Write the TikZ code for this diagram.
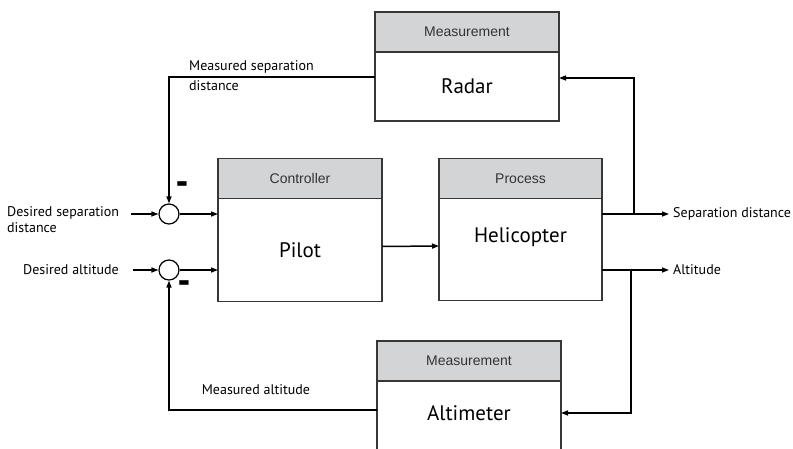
\documentclass[tikz,border=0pt]{standalone}
\usepackage{fontspec}
\setmainfont{PT Sans}
\newfontfamily\hdrfont{Liberation Sans}
\usetikzlibrary{positioning,arrows.meta}
\definecolor{hdrgray}{RGB}{211,212,214}
\definecolor{edgegray}{RGB}{55,55,55}
\begin{document}
\begin{tikzpicture}[x=1pt,y=-1pt]
\tikzset{hdr/.style={draw=edgegray,line width=1.2pt,fill=hdrgray,minimum height=40pt,inner sep=0pt,outer sep=0pt,font=\hdrfont\fontsize{14}{16}\selectfont,text=black!80}}
\tikzset{body/.style={draw=edgegray,line width=1.2pt,fill=white,inner sep=0pt,outer sep=0pt}}
\tikzset{big/.style={font=\fontsize{21}{24}\selectfont,inner sep=0pt}}
\tikzset{lab/.style={font=\fontsize{14}{16}\selectfont,inner sep=0pt,align=left}}
\tikzset{sum/.style={circle,draw=black,line width=1.2pt,fill=white,minimum size=20pt,inner sep=0pt}}
\tikzset{minus/.style={font=\bfseries\fontsize{21}{21}\selectfont,inner sep=0pt}}
\tikzset{arr/.style={line width=1.5pt,-{Triangle[length=7pt,width=5pt]}}}
\clip (0,0) rectangle (793,449);
\useasboundingbox (0,0) rectangle (793,449);
\node[hdr,minimum width=164pt] (ctrlhdr) at (300,178.5) {Controller};
\node[body,minimum width=164pt,minimum height=103pt,below=0pt of ctrlhdr] (pilot) {};
\node[big] (pilottxt) at (pilot) {Pilot};
\node[hdr,minimum width=163pt] (prochdr) at (520.5,178.5) {Process};
\node[body,minimum width=163pt,minimum height=102pt,below=0pt of prochdr] (heli) {};
\node[big] (helitxt) at ([yshift=-39pt]heli.north) {Helicopter};
\node[hdr,minimum width=184pt] (radhdr) at (467,32) {Measurement};
\node[body,minimum width=184pt,minimum height=69pt,below=0pt of radhdr] (radar) {};
\node[big] (radartxt) at (radar) {Radar};
\node[hdr,minimum width=184pt] (althdr) at (469,361) {Measurement};
\node[body,minimum width=184pt,minimum height=110pt,below=0pt of althdr] (alt) {};
\node[big] (alttxt) at ([yshift=-32pt]alt.north) {Altimeter};
\node[sum] (s1) at (169,214) {};
\node[sum] (s2) at (169,270) {};
\node[minus] (m1) at (182.5,189) {\scalebox{1}[1.9]{--}};
\node[minus] (m2) at (184.5,288) {\scalebox{1}[1.9]{--}};
\node[lab,anchor=west] (lab1) at (7,220) {Desired separation\\distance};
\node[lab,anchor=west] (lab2) at (23,270) {Desired altitude};
\node[lab,anchor=west] (lab3) at (673,214) {Separation distance};
\node[lab,anchor=west] (lab4) at (673,270) {Altitude};
\node[lab,anchor=west,font=\fontsize{14}{20}\selectfont] (lab5) at (189,76) {Measured separation\\distance};
\node[lab] (lab6) at (256,390) {Measured altitude};
\coordinate (in1) at (131,214);
\coordinate (in2) at (133,270);
\coordinate (out1) at (669,214);
\coordinate (out2) at (669,270);
\coordinate (fb1) at (634,214);
\coordinate (fb2) at (631,270);
\coordinate (rfb) at (634,78);
\coordinate (afb) at (631,413);
\coordinate (rmeas) at (169,77);
\coordinate (ameas) at (169,410);
\draw[arr] (in1) -- (s1);
\draw[arr] (in2) -- (s2);
\draw[arr] (s1) -- (pilot.west|-s1);
\draw[arr] (s2) -- (pilot.west|-s2);
\draw[arr] ([yshift=3.5pt]pilot.east) -- ([yshift=3.5pt]heli.west);
\draw[arr] (heli.east|-out1) -- (out1);
\draw[arr] (heli.east|-out2) -- (out2);
\draw[arr] (fb1) -- (rfb) -- (radar.east|-rfb);
\draw[arr] (fb2) -- (afb) -- (alt.east|-afb);
\draw[arr] (radar.west|-rmeas) -- (rmeas) -- (s1);
\draw[arr] (alt.west|-ameas) -- (ameas) -- (s2);
\end{tikzpicture}
\end{document}
